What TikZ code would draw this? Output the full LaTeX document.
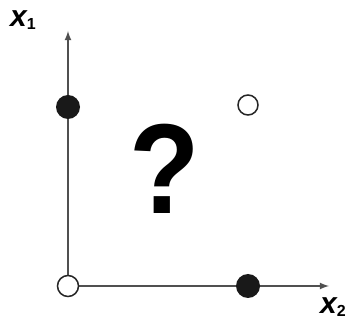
\documentclass[tikz,border=0pt]{standalone}
\usepackage{fontspec}
\setmainfont{Liberation Sans}
\usepackage{xcolor}
\usetikzlibrary{arrows}
\definecolor{axisgray}{RGB}{80,80,80}
\tikzset{
  axis/.style={draw=axisgray,line width=2.1pt,-latex},
  filled/.style={fill=black!90},
  hollow/.style={draw=black!85,fill=white,line width=1.5pt},
  lbl/.style={font=\bfseries\itshape\fontsize{30}{30}\selectfont,inner sep=0pt}
}
\newcommand{\subnum}[1]{\textsubscript{\upshape\fontsize{16}{16}\selectfont #1}}
\begin{document}
\begin{tikzpicture}[x=1pt,y=1pt]
\useasboundingbox (0,0) rectangle (356,329);
\coordinate (O) at (68,43);
\coordinate (T) at (68,298);
\coordinate (R) at (329,43);
\coordinate (A) at (68,222);
\coordinate (B) at (248,43);
\coordinate (C) at (248,224);
\draw[axis] (O) -- (T);
\draw[axis] (O) -- (R);
\fill[filled] (A) circle (12);
\fill[filled] (B) circle (12);
\draw[hollow] (O) circle (10.5);
\draw[hollow] (C) circle (10);
\node[lbl,anchor=south west] (x1) at (10,299) {x\subnum{1}};
\node[lbl,anchor=north west] (x2) at (320,32) {x\subnum{2}};
\node[inner sep=0pt,xscale=0.9,font=\bfseries\fontsize{128}{128}\selectfont] (q) at (165,160) {?};
\end{tikzpicture}
\end{document}
